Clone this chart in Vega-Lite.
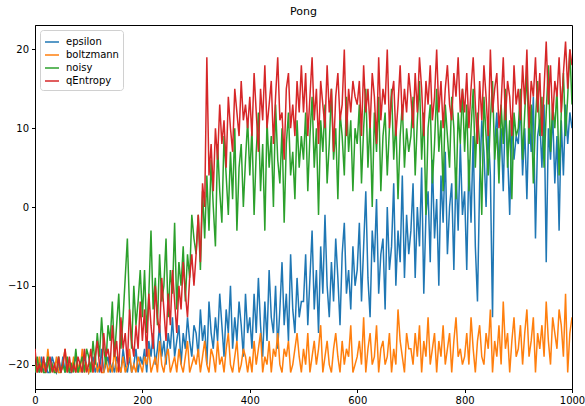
{
"$schema": "https://vega.github.io/schema/vega-lite/v6.json",
"width": 537, "height": 364,
"autosize": {"type": "none"},
"padding": {"left": 35, "top": 25, "right": 13, "bottom": 17},
"title": {"text": "Pong", "fontSize": 11, "font": "DejaVu Sans", "fontWeight": "normal", "color": "#000", "offset": 8, "anchor": "middle"},
"data": {"values": [
{"ep":0,"epsilon":-21,"boltzmann":-20,"noisy":-21,"qEntropy":-18},
{"ep":4,"epsilon":-20,"boltzmann":-21,"noisy":-19,"qEntropy":-21},
{"ep":8,"epsilon":-21,"boltzmann":-19,"noisy":-21,"qEntropy":-20},
{"ep":12,"epsilon":-19,"boltzmann":-21,"noisy":-20,"qEntropy":-21},
{"ep":16,"epsilon":-21,"boltzmann":-20,"noisy":-21,"qEntropy":-19},
{"ep":20,"epsilon":-20,"boltzmann":-21,"noisy":-21,"qEntropy":-21},
{"ep":24,"epsilon":-21,"boltzmann":-18,"noisy":-19,"qEntropy":-20},
{"ep":28,"epsilon":-21,"boltzmann":-21,"noisy":-21,"qEntropy":-19},
{"ep":32,"epsilon":-19,"boltzmann":-20,"noisy":-20,"qEntropy":-21},
{"ep":36,"epsilon":-20,"boltzmann":-21,"noisy":-21,"qEntropy":-20},
{"ep":40,"epsilon":-21,"boltzmann":-19,"noisy":-21,"qEntropy":-21},
{"ep":44,"epsilon":-20,"boltzmann":-21,"noisy":-19,"qEntropy":-19},
{"ep":48,"epsilon":-21,"boltzmann":-21,"noisy":-21,"qEntropy":-21},
{"ep":52,"epsilon":-19,"boltzmann":-20,"noisy":-20,"qEntropy":-20},
{"ep":56,"epsilon":-21,"boltzmann":-18,"noisy":-21,"qEntropy":-18},
{"ep":60,"epsilon":-20,"boltzmann":-21,"noisy":-19,"qEntropy":-21},
{"ep":64,"epsilon":-21,"boltzmann":-20,"noisy":-21,"qEntropy":-19},
{"ep":68,"epsilon":-21,"boltzmann":-21,"noisy":-20,"qEntropy":-21},
{"ep":72,"epsilon":-20,"boltzmann":-19,"noisy":-21,"qEntropy":-20},
{"ep":76,"epsilon":-19,"boltzmann":-21,"noisy":-18,"qEntropy":-21},
{"ep":80,"epsilon":-21,"boltzmann":-20,"noisy":-21,"qEntropy":-19},
{"ep":84,"epsilon":-20,"boltzmann":-21,"noisy":-20,"qEntropy":-20},
{"ep":88,"epsilon":-21,"boltzmann":-18,"noisy":-19,"qEntropy":-21},
{"ep":92,"epsilon":-19,"boltzmann":-21,"noisy":-21,"qEntropy":-18},
{"ep":96,"epsilon":-20,"boltzmann":-20,"noisy":-18,"qEntropy":-21},
{"ep":100,"epsilon":-21,"boltzmann":-21,"noisy":-19,"qEntropy":-20},
{"ep":104,"epsilon":-20,"boltzmann":-20,"noisy":-21,"qEntropy":-18},
{"ep":108,"epsilon":-19,"boltzmann":-21,"noisy":-17,"qEntropy":-21},
{"ep":112,"epsilon":-21,"boltzmann":-19,"noisy":-20,"qEntropy":-19},
{"ep":116,"epsilon":-20,"boltzmann":-21,"noisy":-16,"qEntropy":-17},
{"ep":120,"epsilon":-21,"boltzmann":-20,"noisy":-19,"qEntropy":-20},
{"ep":124,"epsilon":-18,"boltzmann":-21,"noisy":-14,"qEntropy":-21},
{"ep":128,"epsilon":-21,"boltzmann":-21,"noisy":-18,"qEntropy":-16},
{"ep":132,"epsilon":-20,"boltzmann":-19,"noisy":-20,"qEntropy":-19},
{"ep":136,"epsilon":-19,"boltzmann":-21,"noisy":-15,"qEntropy":-18},
{"ep":140,"epsilon":-21,"boltzmann":-20,"noisy":-17,"qEntropy":-20},
{"ep":144,"epsilon":-20,"boltzmann":-21,"noisy":-12,"qEntropy":-15},
{"ep":148,"epsilon":-21,"boltzmann":-18,"noisy":-19,"qEntropy":-19},
{"ep":152,"epsilon":-19,"boltzmann":-21,"noisy":-15,"qEntropy":-17},
{"ep":156,"epsilon":-20,"boltzmann":-20,"noisy":-11,"qEntropy":-21},
{"ep":160,"epsilon":-21,"boltzmann":-21,"noisy":-18,"qEntropy":-14},
{"ep":164,"epsilon":-18,"boltzmann":-19,"noisy":-14,"qEntropy":-18},
{"ep":168,"epsilon":-20,"boltzmann":-21,"noisy":-9,"qEntropy":-16},
{"ep":172,"epsilon":-21,"boltzmann":-20,"noisy":-4,"qEntropy":-20},
{"ep":176,"epsilon":-19,"boltzmann":-18,"noisy":-13,"qEntropy":-13},
{"ep":180,"epsilon":-21,"boltzmann":-21,"noisy":-18,"qEntropy":-17},
{"ep":184,"epsilon":-20,"boltzmann":-20,"noisy":-10,"qEntropy":-19},
{"ep":188,"epsilon":-18,"boltzmann":-21,"noisy":-15,"qEntropy":-15},
{"ep":192,"epsilon":-21,"boltzmann":-19,"noisy":-12,"qEntropy":-18},
{"ep":196,"epsilon":-19,"boltzmann":-20,"noisy":-8,"qEntropy":-12},
{"ep":200,"epsilon":-20,"boltzmann":-21,"noisy":-14,"qEntropy":-17},
{"ep":204,"epsilon":-18,"boltzmann":-19,"noisy":-8,"qEntropy":-13},
{"ep":208,"epsilon":-21,"boltzmann":-20,"noisy":-16,"qEntropy":-19},
{"ep":212,"epsilon":-17,"boltzmann":-18,"noisy":-11,"qEntropy":-11},
{"ep":216,"epsilon":-19,"boltzmann":-21,"noisy":-3,"qEntropy":-15},
{"ep":220,"epsilon":-16,"boltzmann":-20,"noisy":-13,"qEntropy":-18},
{"ep":224,"epsilon":-20,"boltzmann":-19,"noisy":-9,"qEntropy":-10},
{"ep":228,"epsilon":-18,"boltzmann":-21,"noisy":-15,"qEntropy":-14},
{"ep":232,"epsilon":-15,"boltzmann":-17,"noisy":-6,"qEntropy":-16},
{"ep":236,"epsilon":-19,"boltzmann":-20,"noisy":-12,"qEntropy":-9},
{"ep":240,"epsilon":-17,"boltzmann":-21,"noisy":-10,"qEntropy":-13},
{"ep":244,"epsilon":-20,"boltzmann":-19,"noisy":-4,"qEntropy":-17},
{"ep":248,"epsilon":-16,"boltzmann":-18,"noisy":-14,"qEntropy":-11},
{"ep":252,"epsilon":-18,"boltzmann":-21,"noisy":-8,"qEntropy":-15},
{"ep":256,"epsilon":-14,"boltzmann":-20,"noisy":-11,"qEntropy":-8},
{"ep":260,"epsilon":-19,"boltzmann":-19,"noisy":-2,"qEntropy":-12},
{"ep":264,"epsilon":-17,"boltzmann":-21,"noisy":-13,"qEntropy":-16},
{"ep":268,"epsilon":-15,"boltzmann":-18,"noisy":-7,"qEntropy":-10},
{"ep":272,"epsilon":-20,"boltzmann":-20,"noisy":-10,"qEntropy":-13},
{"ep":276,"epsilon":-16,"boltzmann":-21,"noisy":-5,"qEntropy":-7},
{"ep":280,"epsilon":-18,"boltzmann":-19,"noisy":-12,"qEntropy":-11},
{"ep":284,"epsilon":-14,"boltzmann":-17,"noisy":-6,"qEntropy":-14},
{"ep":288,"epsilon":-17,"boltzmann":-21,"noisy":-9,"qEntropy":-9},
{"ep":292,"epsilon":-19,"boltzmann":-20,"noisy":-1,"qEntropy":-6},
{"ep":296,"epsilon":-15,"boltzmann":-19,"noisy":-4,"qEntropy":-10},
{"ep":300,"epsilon":-16,"boltzmann":-20,"noisy":-6,"qEntropy":-6},
{"ep":304,"epsilon":-19,"boltzmann":-18,"noisy":-1,"qEntropy":-1},
{"ep":308,"epsilon":-13,"boltzmann":-21,"noisy":-8,"qEntropy":-7},
{"ep":312,"epsilon":-17,"boltzmann":-19,"noisy":2,"qEntropy":3},
{"ep":316,"epsilon":-15,"boltzmann":-17,"noisy":-4,"qEntropy":0},
{"ep":320,"epsilon":-20,"boltzmann":-20,"noisy":4,"qEntropy":19},
{"ep":324,"epsilon":-12,"boltzmann":-21,"noisy":-3,"qEntropy":4},
{"ep":328,"epsilon":-16,"boltzmann":-18,"noisy":6,"qEntropy":8},
{"ep":332,"epsilon":-18,"boltzmann":-19,"noisy":0,"qEntropy":2},
{"ep":336,"epsilon":-14,"boltzmann":-21,"noisy":-5,"qEntropy":10},
{"ep":340,"epsilon":-17,"boltzmann":-17,"noisy":8,"qEntropy":6},
{"ep":344,"epsilon":-11,"boltzmann":-20,"noisy":2,"qEntropy":13},
{"ep":348,"epsilon":-15,"boltzmann":-19,"noisy":-2,"qEntropy":8},
{"ep":352,"epsilon":-19,"boltzmann":-21,"noisy":9,"qEntropy":11},
{"ep":356,"epsilon":-13,"boltzmann":-18,"noisy":4,"qEntropy":5},
{"ep":360,"epsilon":-16,"boltzmann":-16,"noisy":-1,"qEntropy":14},
{"ep":364,"epsilon":-10,"boltzmann":-20,"noisy":7,"qEntropy":10},
{"ep":368,"epsilon":-18,"boltzmann":-21,"noisy":1,"qEntropy":7},
{"ep":372,"epsilon":-14,"boltzmann":-19,"noisy":10,"qEntropy":15},
{"ep":376,"epsilon":-17,"boltzmann":-17,"noisy":-3,"qEntropy":12},
{"ep":380,"epsilon":-12,"boltzmann":-21,"noisy":5,"qEntropy":9},
{"ep":384,"epsilon":-15,"boltzmann":-20,"noisy":8,"qEntropy":16},
{"ep":388,"epsilon":-19,"boltzmann":-18,"noisy":0,"qEntropy":11},
{"ep":392,"epsilon":-11,"boltzmann":-19,"noisy":6,"qEntropy":13},
{"ep":396,"epsilon":-16,"boltzmann":-21,"noisy":11,"qEntropy":10},
{"ep":400,"epsilon":-14,"boltzmann":-19,"noisy":4,"qEntropy":14},
{"ep":404,"epsilon":-18,"boltzmann":-21,"noisy":10,"qEntropy":9},
{"ep":408,"epsilon":-11,"boltzmann":-17,"noisy":-1,"qEntropy":17},
{"ep":412,"epsilon":-16,"boltzmann":-20,"noisy":7,"qEntropy":12},
{"ep":416,"epsilon":-9,"boltzmann":-18,"noisy":12,"qEntropy":7},
{"ep":420,"epsilon":-15,"boltzmann":-16,"noisy":2,"qEntropy":15},
{"ep":424,"epsilon":-19,"boltzmann":-21,"noisy":8,"qEntropy":11},
{"ep":428,"epsilon":-12,"boltzmann":-19,"noisy":-3,"qEntropy":18},
{"ep":432,"epsilon":-17,"boltzmann":-20,"noisy":11,"qEntropy":10},
{"ep":436,"epsilon":-8,"boltzmann":-17,"noisy":5,"qEntropy":13},
{"ep":440,"epsilon":-14,"boltzmann":-21,"noisy":9,"qEntropy":16},
{"ep":444,"epsilon":-16,"boltzmann":-18,"noisy":0,"qEntropy":8},
{"ep":448,"epsilon":-10,"boltzmann":-19,"noisy":13,"qEntropy":14},
{"ep":452,"epsilon":-18,"boltzmann":-16,"noisy":6,"qEntropy":19},
{"ep":456,"epsilon":-13,"boltzmann":-20,"noisy":3,"qEntropy":11},
{"ep":460,"epsilon":-7,"boltzmann":-21,"noisy":10,"qEntropy":12},
{"ep":464,"epsilon":-15,"boltzmann":-18,"noisy":-2,"qEntropy":6},
{"ep":468,"epsilon":-11,"boltzmann":-19,"noisy":8,"qEntropy":15},
{"ep":472,"epsilon":-17,"boltzmann":-17,"noisy":12,"qEntropy":17},
{"ep":476,"epsilon":-6,"boltzmann":-21,"noisy":4,"qEntropy":10},
{"ep":480,"epsilon":-13,"boltzmann":-20,"noisy":7,"qEntropy":13},
{"ep":484,"epsilon":-16,"boltzmann":-18,"noisy":1,"qEntropy":9},
{"ep":488,"epsilon":-9,"boltzmann":-16,"noisy":11,"qEntropy":16},
{"ep":492,"epsilon":-14,"boltzmann":-19,"noisy":5,"qEntropy":12},
{"ep":496,"epsilon":-12,"boltzmann":-21,"noisy":9,"qEntropy":18},
{"ep":500,"epsilon":-12,"boltzmann":-18,"noisy":6,"qEntropy":12},
{"ep":504,"epsilon":-6,"boltzmann":-20,"noisy":12,"qEntropy":17},
{"ep":508,"epsilon":-15,"boltzmann":-16,"noisy":2,"qEntropy":9},
{"ep":512,"epsilon":-9,"boltzmann":-21,"noisy":9,"qEntropy":14},
{"ep":516,"epsilon":-3,"boltzmann":-19,"noisy":14,"qEntropy":19},
{"ep":520,"epsilon":-13,"boltzmann":-17,"noisy":5,"qEntropy":11},
{"ep":524,"epsilon":-8,"boltzmann":-20,"noisy":10,"qEntropy":15},
{"ep":528,"epsilon":-16,"boltzmann":-18,"noisy":-1,"qEntropy":8},
{"ep":532,"epsilon":-5,"boltzmann":-15,"noisy":11,"qEntropy":16},
{"ep":536,"epsilon":-11,"boltzmann":-21,"noisy":7,"qEntropy":13},
{"ep":540,"epsilon":-1,"boltzmann":-19,"noisy":13,"qEntropy":10},
{"ep":544,"epsilon":-10,"boltzmann":-17,"noisy":3,"qEntropy":18},
{"ep":548,"epsilon":-14,"boltzmann":-20,"noisy":8,"qEntropy":12},
{"ep":552,"epsilon":-7,"boltzmann":-21,"noisy":15,"qEntropy":15},
{"ep":556,"epsilon":-12,"boltzmann":-18,"noisy":6,"qEntropy":7},
{"ep":560,"epsilon":-4,"boltzmann":-16,"noisy":10,"qEntropy":14},
{"ep":564,"epsilon":-9,"boltzmann":-19,"noisy":1,"qEntropy":17},
{"ep":568,"epsilon":-15,"boltzmann":-21,"noisy":12,"qEntropy":11},
{"ep":572,"epsilon":-6,"boltzmann":-17,"noisy":9,"qEntropy":13},
{"ep":576,"epsilon":-2,"boltzmann":-20,"noisy":4,"qEntropy":20},
{"ep":580,"epsilon":-11,"boltzmann":-18,"noisy":14,"qEntropy":9},
{"ep":584,"epsilon":-8,"boltzmann":-19,"noisy":7,"qEntropy":15},
{"ep":588,"epsilon":-13,"boltzmann":-15,"noisy":11,"qEntropy":12},
{"ep":592,"epsilon":-5,"boltzmann":-21,"noisy":2,"qEntropy":16},
{"ep":596,"epsilon":-10,"boltzmann":-20,"noisy":10,"qEntropy":14},
{"ep":600,"epsilon":-8,"boltzmann":-19,"noisy":8,"qEntropy":13},
{"ep":604,"epsilon":-2,"boltzmann":-17,"noisy":13,"qEntropy":16},
{"ep":608,"epsilon":-12,"boltzmann":-20,"noisy":3,"qEntropy":9},
{"ep":612,"epsilon":-5,"boltzmann":-14,"noisy":10,"qEntropy":18},
{"ep":616,"epsilon":2,"boltzmann":-21,"noisy":15,"qEntropy":12},
{"ep":620,"epsilon":-9,"boltzmann":-18,"noisy":5,"qEntropy":15},
{"ep":624,"epsilon":-14,"boltzmann":-16,"noisy":11,"qEntropy":10},
{"ep":628,"epsilon":-3,"boltzmann":-20,"noisy":0,"qEntropy":17},
{"ep":632,"epsilon":-7,"boltzmann":-19,"noisy":12,"qEntropy":14},
{"ep":636,"epsilon":1,"boltzmann":-15,"noisy":7,"qEntropy":8},
{"ep":640,"epsilon":-11,"boltzmann":-21,"noisy":14,"qEntropy":19},
{"ep":644,"epsilon":-6,"boltzmann":-18,"noisy":2,"qEntropy":11},
{"ep":648,"epsilon":-4,"boltzmann":-17,"noisy":9,"qEntropy":15},
{"ep":652,"epsilon":-13,"boltzmann":-20,"noisy":12,"qEntropy":13},
{"ep":656,"epsilon":0,"boltzmann":-19,"noisy":4,"qEntropy":20},
{"ep":660,"epsilon":-8,"boltzmann":-16,"noisy":10,"qEntropy":10},
{"ep":664,"epsilon":-5,"boltzmann":-21,"noisy":15,"qEntropy":14},
{"ep":668,"epsilon":3,"boltzmann":-18,"noisy":6,"qEntropy":16},
{"ep":672,"epsilon":-10,"boltzmann":-20,"noisy":11,"qEntropy":9},
{"ep":676,"epsilon":-3,"boltzmann":-13,"noisy":1,"qEntropy":13},
{"ep":680,"epsilon":-7,"boltzmann":-17,"noisy":9,"qEntropy":18},
{"ep":684,"epsilon":4,"boltzmann":-19,"noisy":13,"qEntropy":11},
{"ep":688,"epsilon":-9,"boltzmann":-21,"noisy":5,"qEntropy":15},
{"ep":692,"epsilon":-1,"boltzmann":-16,"noisy":10,"qEntropy":12},
{"ep":696,"epsilon":-6,"boltzmann":-18,"noisy":7,"qEntropy":17},
{"ep":700,"epsilon":-3,"boltzmann":-18,"noisy":9,"qEntropy":14},
{"ep":704,"epsilon":3,"boltzmann":-20,"noisy":14,"qEntropy":10},
{"ep":708,"epsilon":-9,"boltzmann":-16,"noisy":4,"qEntropy":17},
{"ep":712,"epsilon":0,"boltzmann":-19,"noisy":11,"qEntropy":12},
{"ep":716,"epsilon":-5,"boltzmann":-15,"noisy":16,"qEntropy":19},
{"ep":720,"epsilon":5,"boltzmann":-21,"noisy":6,"qEntropy":15},
{"ep":724,"epsilon":-11,"boltzmann":-17,"noisy":12,"qEntropy":9},
{"ep":728,"epsilon":-1,"boltzmann":-19,"noisy":-1,"qEntropy":16},
{"ep":732,"epsilon":2,"boltzmann":-14,"noisy":10,"qEntropy":13},
{"ep":736,"epsilon":-7,"boltzmann":-20,"noisy":13,"qEntropy":18},
{"ep":740,"epsilon":6,"boltzmann":-18,"noisy":3,"qEntropy":11},
{"ep":744,"epsilon":-4,"boltzmann":-16,"noisy":8,"qEntropy":14},
{"ep":748,"epsilon":1,"boltzmann":-21,"noisy":15,"qEntropy":20},
{"ep":752,"epsilon":-10,"boltzmann":-17,"noisy":7,"qEntropy":12},
{"ep":756,"epsilon":4,"boltzmann":-19,"noisy":11,"qEntropy":16},
{"ep":760,"epsilon":-2,"boltzmann":-15,"noisy":2,"qEntropy":10},
{"ep":764,"epsilon":7,"boltzmann":-20,"noisy":13,"qEntropy":15},
{"ep":768,"epsilon":-6,"boltzmann":-18,"noisy":9,"qEntropy":18},
{"ep":772,"epsilon":0,"boltzmann":-16,"noisy":5,"qEntropy":13},
{"ep":776,"epsilon":3,"boltzmann":-21,"noisy":14,"qEntropy":11},
{"ep":780,"epsilon":-8,"boltzmann":-17,"noisy":10,"qEntropy":17},
{"ep":784,"epsilon":5,"boltzmann":-14,"noisy":1,"qEntropy":14},
{"ep":788,"epsilon":-3,"boltzmann":-19,"noisy":12,"qEntropy":19},
{"ep":792,"epsilon":8,"boltzmann":-18,"noisy":8,"qEntropy":12},
{"ep":796,"epsilon":-1,"boltzmann":-20,"noisy":15,"qEntropy":15},
{"ep":800,"epsilon":2,"boltzmann":-19,"noisy":7,"qEntropy":12},
{"ep":804,"epsilon":-8,"boltzmann":-16,"noisy":13,"qEntropy":17},
{"ep":808,"epsilon":6,"boltzmann":-20,"noisy":2,"qEntropy":10},
{"ep":812,"epsilon":-2,"boltzmann":-14,"noisy":10,"qEntropy":15},
{"ep":816,"epsilon":9,"boltzmann":-18,"noisy":15,"qEntropy":19},
{"ep":820,"epsilon":-5,"boltzmann":-21,"noisy":5,"qEntropy":13},
{"ep":824,"epsilon":-12,"boltzmann":-17,"noisy":12,"qEntropy":8},
{"ep":828,"epsilon":3,"boltzmann":-15,"noisy":8,"qEntropy":16},
{"ep":832,"epsilon":11,"boltzmann":-19,"noisy":-1,"qEntropy":11},
{"ep":836,"epsilon":7,"boltzmann":-20,"noisy":14,"qEntropy":18},
{"ep":840,"epsilon":0,"boltzmann":-16,"noisy":9,"qEntropy":14},
{"ep":844,"epsilon":10,"boltzmann":-18,"noisy":4,"qEntropy":9},
{"ep":848,"epsilon":4,"boltzmann":-13,"noisy":11,"qEntropy":20},
{"ep":852,"epsilon":-14,"boltzmann":-21,"noisy":16,"qEntropy":12},
{"ep":856,"epsilon":8,"boltzmann":-17,"noisy":6,"qEntropy":15},
{"ep":860,"epsilon":12,"boltzmann":-19,"noisy":10,"qEntropy":17},
{"ep":864,"epsilon":5,"boltzmann":-15,"noisy":3,"qEntropy":10},
{"ep":868,"epsilon":10,"boltzmann":-20,"noisy":13,"qEntropy":13},
{"ep":872,"epsilon":2,"boltzmann":-12,"noisy":8,"qEntropy":19},
{"ep":876,"epsilon":13,"boltzmann":-18,"noisy":15,"qEntropy":11},
{"ep":880,"epsilon":7,"boltzmann":-16,"noisy":5,"qEntropy":16},
{"ep":884,"epsilon":-1,"boltzmann":-21,"noisy":11,"qEntropy":14},
{"ep":888,"epsilon":11,"boltzmann":-17,"noisy":1,"qEntropy":9},
{"ep":892,"epsilon":6,"boltzmann":-14,"noisy":12,"qEntropy":18},
{"ep":896,"epsilon":9,"boltzmann":-19,"noisy":9,"qEntropy":13},
{"ep":900,"epsilon":8,"boltzmann":-18,"noisy":10,"qEntropy":15},
{"ep":904,"epsilon":13,"boltzmann":-15,"noisy":15,"qEntropy":11},
{"ep":908,"epsilon":4,"boltzmann":-20,"noisy":6,"qEntropy":18},
{"ep":912,"epsilon":10,"boltzmann":-16,"noisy":12,"qEntropy":13},
{"ep":916,"epsilon":1,"boltzmann":-13,"noisy":17,"qEntropy":20},
{"ep":920,"epsilon":12,"boltzmann":-19,"noisy":8,"qEntropy":10},
{"ep":924,"epsilon":7,"boltzmann":-17,"noisy":13,"qEntropy":16},
{"ep":928,"epsilon":14,"boltzmann":-14,"noisy":3,"qEntropy":14},
{"ep":932,"epsilon":-4,"boltzmann":-21,"noisy":11,"qEntropy":19},
{"ep":936,"epsilon":9,"boltzmann":-16,"noisy":16,"qEntropy":12},
{"ep":940,"epsilon":11,"boltzmann":-18,"noisy":9,"qEntropy":17},
{"ep":944,"epsilon":5,"boltzmann":-15,"noisy":14,"qEntropy":9},
{"ep":948,"epsilon":13,"boltzmann":-19,"noisy":5,"qEntropy":15},
{"ep":952,"epsilon":-7,"boltzmann":-12,"noisy":12,"qEntropy":21},
{"ep":956,"epsilon":10,"boltzmann":-17,"noisy":18,"qEntropy":13},
{"ep":960,"epsilon":6,"boltzmann":-20,"noisy":7,"qEntropy":18},
{"ep":964,"epsilon":12,"boltzmann":-14,"noisy":13,"qEntropy":11},
{"ep":968,"epsilon":3,"boltzmann":-16,"noisy":10,"qEntropy":16},
{"ep":972,"epsilon":9,"boltzmann":-18,"noisy":15,"qEntropy":14},
{"ep":976,"epsilon":-3,"boltzmann":-13,"noisy":4,"qEntropy":19},
{"ep":980,"epsilon":11,"boltzmann":-15,"noisy":12,"qEntropy":12},
{"ep":984,"epsilon":4,"boltzmann":-19,"noisy":17,"qEntropy":17},
{"ep":988,"epsilon":13,"boltzmann":-11,"noisy":9,"qEntropy":21},
{"ep":992,"epsilon":8,"boltzmann":-21,"noisy":14,"qEntropy":15},
{"ep":996,"epsilon":12,"boltzmann":-16,"noisy":20,"qEntropy":20},
{"ep":1000,"epsilon":10,"boltzmann":-14,"noisy":13,"qEntropy":18}
]},
"transform": [{"fold": ["epsilon", "boltzmann", "noisy", "qEntropy"], "as": ["series", "score"]}],
"mark": {"type": "line", "strokeWidth": 1.5, "clip": true},
"encoding": {
  "x": {"field": "ep", "type": "quantitative", "scale": {"domain": [0, 1000], "nice": false, "zero": false},
        "axis": {"values": [0, 200, 400, 600, 800, 1000], "format": "d", "title": null, "grid": false, "labelFlush": false, "labelOverlap": false}},
  "y": {"field": "score", "type": "quantitative", "scale": {"domain": [-23.1, 23.1], "nice": false, "zero": false},
        "axis": {"values": [-20, -10, 0, 10, 20], "format": "d", "title": null, "grid": false, "labelExpr": "replace(datum.label, '-', '−')"}},
  "color": {"field": "series", "type": "nominal",
        "scale": {"domain": ["epsilon", "boltzmann", "noisy", "qEntropy"], "range": ["#1f77b4", "#ff7f0e", "#2ca02c", "#d62728"]},
        "legend": {"title": null, "orient": "top-left", "offset": 5, "symbolType": "stroke", "symbolStrokeWidth": 1.5, "symbolSize": 196,
                   "labelFont": "DejaVu Sans", "labelFontSize": 10, "labelColor": "#000", "labelOffset": 6, "fillColor": "white",
                   "strokeColor": "#d0d0d0", "cornerRadius": 3, "padding": 4, "rowPadding": 0}}
},
"config": {
  "view": {"stroke": "#000", "strokeWidth": 1},
  "axis": {"domainColor": "#000", "tickColor": "#000", "tickSize": 3.5, "labelFont": "DejaVu Sans", "labelFontSize": 10, "labelColor": "#000", "labelPadding": 3}
}
}
